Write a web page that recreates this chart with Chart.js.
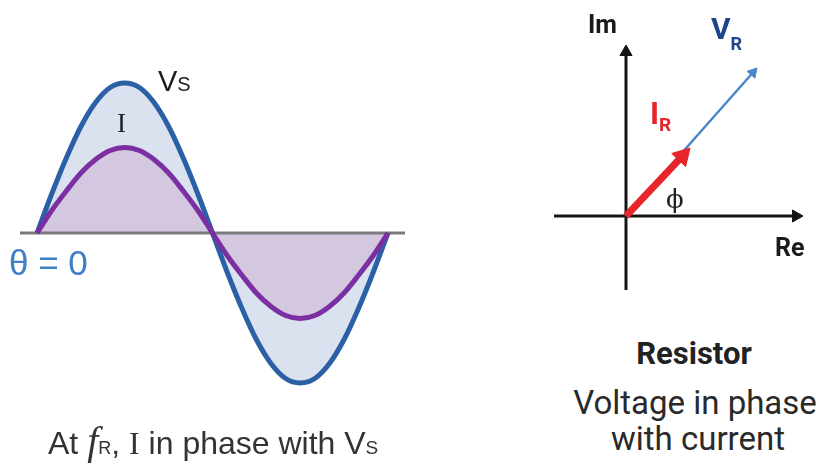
<!DOCTYPE html>
<html>
<head>
<meta charset="utf-8">
<script src="https://cdn.jsdelivr.net/npm/chart.js@4.4.1/dist/chart.umd.min.js"></script>
<style>
  body { margin: 0; background: #fff; width: 816px; height: 467px; overflow: hidden; position: relative;
         font-family: "Liberation Sans", Arial, sans-serif; }
  canvas { position: absolute; }
  .t { position: absolute; line-height: 1; white-space: nowrap; }
  .serif { font-family: "Liberation Serif", "Times New Roman", serif; }
  .rb { font-family: Roboto, "Liberation Sans", sans-serif; font-weight: 700; }
  .rr { font-family: Roboto, "Liberation Sans", sans-serif; }
  .c { width: 300px; text-align: center; }
</style>
</head>
<body>
<div id="waveBox" style="position:absolute;left:0;top:0;width:420px;height:467px"><canvas id="waveChart"></canvas></div>
<div id="phasorBox" style="position:absolute;left:540px;top:0;width:276px;height:300px"><canvas id="phasorChart"></canvas></div>

<!-- left panel labels -->
<div class="t" style="left:158px;top:67px;font-size:29px;color:#1c1c1c">V<span style="font-size:20px">S</span></div>
<div class="t serif" style="left:117px;top:110px;font-size:27px;color:#222">I</div>
<div class="t" style="left:9px;top:245px;font-size:35px;color:#3f7fc6">&theta; = 0</div>
<div class="t" style="left:48px;top:421px;font-size:32px;color:#333">At <span class="serif" style="font-style:italic;font-size:40px">f</span><span style="font-size:18px">R</span>, <span class="serif">I</span> in phase with V<span style="font-size:19px">S</span></div>

<!-- right panel labels -->
<div class="t rb" style="left:588px;top:12px;font-size:25px;color:#1a1a1a">Im</div>
<div class="t rb" style="left:711px;top:14px;font-size:30px;color:#1d4688">V<span style="font-size:18px;position:relative;top:11px">R</span></div>
<div class="t rb" style="left:650px;top:98px;font-size:31px;color:#e3262b">I<span style="font-size:19px;position:relative;top:7px">R</span></div>
<div class="t rb" style="left:775px;top:235px;font-size:25px;color:#1a1a1a">Re</div>
<div class="t" style="left:666px;top:186px;font-size:26px;color:#222;font-family:'DejaVu Serif',serif">&#x3D5;</div>
<div class="t rb c" style="left:544px;top:338px;font-size:31px;color:#222">Resistor</div>
<div class="t rr c" style="left:545px;top:386px;font-size:33px;color:#2a2a2a">Voltage in phase</div>
<div class="t rr c" style="left:548px;top:422px;font-size:33px;color:#2a2a2a">with current</div>

<script>
// phase angle in degrees, source voltage and current (relative to peak Vs)
var theta = [0, 15, 30, 45, 60, 75, 90, 105, 120, 135, 150, 165, 180,
             195, 210, 225, 240, 255, 270, 285, 300, 315, 330, 345, 360];
var vsValues = [0, 0.26, 0.5, 0.71, 0.87, 0.97, 1, 0.97, 0.87, 0.71, 0.5, 0.26, 0,
                -0.26, -0.5, -0.71, -0.87, -0.97, -1, -0.97, -0.87, -0.71, -0.5, -0.26, 0];
var iValues = [0, 0.15, 0.28, 0.4, 0.49, 0.55, 0.57, 0.55, 0.49, 0.4, 0.28, 0.15, 0,
               -0.15, -0.28, -0.4, -0.49, -0.55, -0.57, -0.55, -0.49, -0.4, -0.28, -0.15, 0];
var baseline = [-17.5, 377.5];

// phasor diagram: [re, im] of start and end of each arrow
var reAxis = [[-1.44, 0], [3.40, 0]];
var imAxis = [[0, -1.48], [0, 3.28]];
var vrPhasor = [[0, 0], [2.54, 2.87]];
var irPhasor = [[0, 0], [1.13, 1.2]];

function toXY(xs, ys) {
    return xs.map(function (x, i) { return { x: x, y: ys[i] }; });
}
function toPts(pairs) {
    return pairs.map(function (p) { return { x: p[0], y: p[1] }; });
}
function heading(pairs) {
    var dx = pairs[1][0] - pairs[0][0], dy = pairs[1][1] - pairs[0][1];
    return Math.atan2(dx, dy) * 180 / Math.PI;
}
function arrow(pairs, color, width, head) {
    return {
        data: toPts(pairs),
        showLine: true,
        borderColor: color,
        borderWidth: width,
        borderCapStyle: 'butt',
        tension: 0,
        pointStyle: 'triangle',
        pointRadius: [0, head],
        pointRotation: heading(pairs),
        pointBackgroundColor: color,
        pointBorderColor: color,
        pointBorderWidth: 1
    };
}

Chart.defaults.animation = false;
Chart.defaults.events = [];
Chart.defaults.plugins.legend.display = false;
Chart.defaults.plugins.tooltip.enabled = false;

new Chart(document.getElementById('waveChart'), {
    type: 'scatter',
    data: {
        datasets: [{
            data: toXY(theta, iValues),
            showLine: true,
            borderColor: '#7b2fa3',
            borderWidth: 5,
            backgroundColor: '#d3c8df',
            fill: 'origin',
            pointRadius: 0,
            cubicInterpolationMode: 'monotone'
        }, {
            data: toXY(theta, vsValues),
            showLine: true,
            borderColor: '#2c60a6',
            borderWidth: 5,
            backgroundColor: '#d9e2ee',
            fill: 'origin',
            pointRadius: 0,
            cubicInterpolationMode: 'monotone'
        }, {
            data: toXY(baseline, [0, 0]),
            showLine: true,
            borderColor: '#7a7a7a',
            borderWidth: 3,
            pointRadius: 0
        }]
    },
    options: {
        responsive: true,
        maintainAspectRatio: false,
        layout: { autoPadding: false, padding: { left: 20, right: 15, top: 8, bottom: 9 } },
        plugins: { filler: { drawTime: 'beforeDatasetsDraw' } },
        scales: {
            x: { type: 'linear', min: -17.5, max: 377.5, display: false },
            y: { min: -1.5, max: 1.5, display: false }
        }
    }
});

new Chart(document.getElementById('phasorChart'), {
    type: 'scatter',
    data: {
        datasets: [
            arrow(irPhasor, '#e8252a', 7, 11),
            arrow(vrPhasor, '#4a86c8', 2.5, 6),
            arrow(reAxis, '#141414', 3, 7),
            arrow(imAxis, '#141414', 3, 7)
        ]
    },
    options: {
        responsive: true,
        maintainAspectRatio: false,
        layout: { autoPadding: false, padding: 0 },
        scales: {
            x: { type: 'linear', min: -1.72, max: 3.8, display: false },
            y: { min: -1.68, max: 4.32, display: false }
        }
    }
});
</script>
</body>
</html>
